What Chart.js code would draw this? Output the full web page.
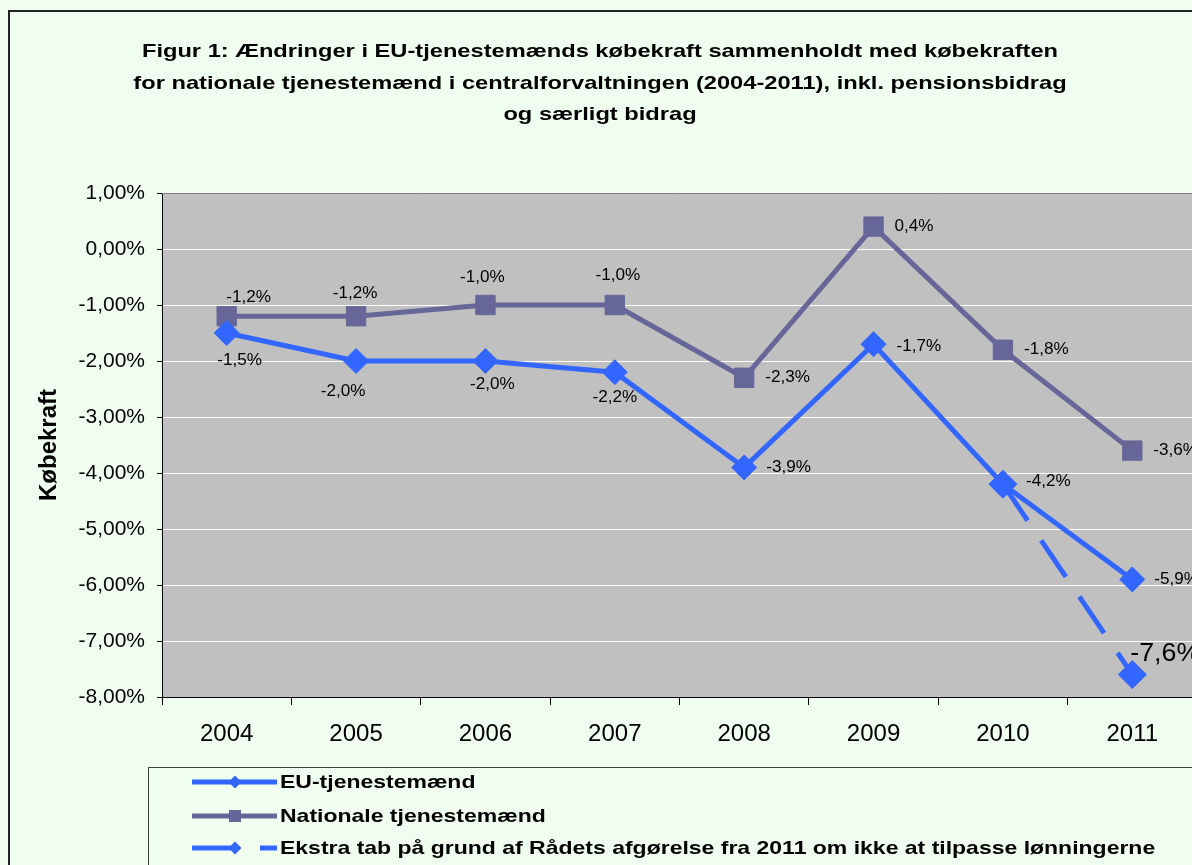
<!DOCTYPE html>
<html>
<head>
<meta charset="utf-8">
<script src="https://cdn.jsdelivr.net/npm/chart.js@4/dist/chart.umd.min.js"></script>
<style>
    html, body { margin: 0; padding: 0; overflow: hidden; background: #EFFEEF; }
    #wrap { width: 1192px; height: 865px; overflow: hidden; }
</style>
</head>
<body>
<div id="wrap"><canvas id="koebekraftCanvas" width="1212" height="865"></canvas></div>
<script>
// data
const years = ["2004", "2005", "2006", "2007", "2008", "2009", "2010", "2011"];
const euValues = [-1.5, -2.0, -2.0, -2.2, -3.9, -1.7, -4.2, -5.9];
const natValues = [-1.2, -1.2, -1.0, -1.0, -2.3, 0.4, -1.8, -3.6];
const extraValues = [null, null, null, null, null, null, -4.2, -7.6];
const yMin = -8, yMax = 1, yStep = 1;

const titleLines = [
    "Figur 1: Ændringer i EU-tjenestemænds købekraft sammenholdt med købekraften",
    "for nationale tjenestemænd i centralforvaltningen (2004-2011), inkl. pensionsbidrag",
    "og særligt bidrag"
];
const yTitle = "Købekraft";
const seriesNames = [
    "EU-tjenestemænd",
    "Nationale tjenestemænd",
    "Ekstra tab på grund af Rådets afgørelse fra 2011 om ikke at tilpasse lønningerne"
];

// label placement per point: [dx, dy, align]
const euLabelPos = [[13, 28, "center"], [-13, 31, "center"], [7, 24, "center"], [0, 25, "center"],
    [22, 0, "left"], [23, 2, "left"], [23, -3, "left"], [22, 0, "left"]];
const natLabelPos = [[22, -19, "center"], [-1, -23, "center"], [-3, -27, "center"], [3, -29, "center"],
    [21, 0, "left"], [21, 0, "left"], [21, 0, "left"], [21, 0, "left"]];
const extraLabelPos = [null, null, null, null, null, null, null, [-2, -20, "left"]];

const EU_BLUE = "#3366FF";
const NAT_PURPLE = "#666699";
const BG = "#EFFEEF";
const FONT = "'Liberation Sans', Arial, sans-serif";

Chart.defaults.font.family = FONT;

function fmtPct(v, digits) {
    return v.toFixed(digits).replace(".", ",") + "%";
}

// text in the original is a bit wider than plain Arial, so stretch it sideways
function wideText(ctx, text, x, y, sx) {
    ctx.save();
    ctx.translate(x, y);
    ctx.scale(sx, 1);
    ctx.fillText(text, 0, 0);
    ctx.restore();
}

const decorPlugin = {
    id: "decor",
    beforeDraw(chart) {
        const ctx = chart.ctx, a = chart.chartArea;
        ctx.save();
        ctx.fillStyle = BG;
        ctx.fillRect(0, 0, chart.width, chart.height);
        ctx.fillStyle = "#C0C0C0";
        ctx.fillRect(a.left, a.top, a.right - a.left, a.bottom - a.top);
        ctx.restore();
    },
    beforeDatasetsDraw(chart) {
        const ctx = chart.ctx, a = chart.chartArea;
        ctx.save();
        ctx.strokeStyle = "#808080";
        ctx.lineWidth = 1;
        ctx.beginPath();
        ctx.moveTo(a.left, a.top + 0.5);
        ctx.lineTo(a.right, a.top + 0.5);
        ctx.stroke();
        ctx.restore();
    },
    afterDraw(chart) {
        const ctx = chart.ctx, a = chart.chartArea;
        ctx.save();

        // outer frame
        ctx.strokeStyle = "#222";
        ctx.lineWidth = 2;
        ctx.strokeRect(9, 11, 2000, 2000);

        // title
        ctx.fillStyle = "#000";
        ctx.textAlign = "center";
        ctx.textBaseline = "middle";
        ctx.font = "bold 19px " + FONT;
        titleLines.forEach(function (line, i) {
            wideText(ctx, line, 600, 52 + i * 31.5, 1.245);
        });

        // y axis title
        ctx.save();
        ctx.translate(49, (a.top + a.bottom) / 2);
        ctx.rotate(-Math.PI / 2);
        ctx.font = "bold 24px " + FONT;
        ctx.fillText(yTitle, 0, 0);
        ctx.restore();

        // data labels
        const labelSets = [euLabelPos, natLabelPos, extraLabelPos];
        chart.data.datasets.forEach(function (ds, di) {
            const meta = chart.getDatasetMeta(di);
            meta.data.forEach(function (pt, i) {
                const pos = labelSets[di][i];
                if (!pos || ds.data[i] === null) return;
                ctx.font = (di === 2 ? "25px " : "16px ") + FONT;
                ctx.textAlign = pos[2];
                ctx.textBaseline = "middle";
                ctx.fillStyle = "#000";
                wideText(ctx, fmtPct(ds.data[i], 1), pt.x + pos[0], pt.y + pos[1], 1.07);
            });
        });

        // legend box
        ctx.strokeStyle = "#404040";
        ctx.lineWidth = 1;
        ctx.strokeRect(148.5, 767.5, 2000, 2000);
        const rows = [782, 816, 848];
        chart.data.datasets.forEach(function (ds, di) {
            const y = rows[di];
            ctx.strokeStyle = ds.borderColor;
            ctx.lineWidth = 5;
            ctx.setLineDash(ds.borderDash || []);
            ctx.beginPath();
            ctx.moveTo(192, y);
            ctx.lineTo(277, y);
            ctx.stroke();
            ctx.setLineDash([]);
            ctx.fillStyle = ds.borderColor;
            ctx.beginPath();
            if (ds.pointStyle === "rect") {
                ctx.rect(229, y - 6, 12, 12);
            } else {
                ctx.moveTo(235, y - 6.5);
                ctx.lineTo(241.5, y);
                ctx.lineTo(235, y + 6.5);
                ctx.lineTo(228.5, y);
                ctx.closePath();
            }
            ctx.fill();
            ctx.fillStyle = "#000";
            ctx.font = "bold 19px " + FONT;
            ctx.textAlign = "left";
            ctx.textBaseline = "middle";
            wideText(ctx, ds.label, 280, y + 1, 1.21);
        });

        ctx.restore();
    }
};

const ctx = document.getElementById("koebekraftCanvas");

var koebekraftChart = new Chart(ctx, {
    type: "line",
    data: {
        labels: years,
        datasets: [
            {
                label: seriesNames[0],
                data: euValues,
                borderColor: EU_BLUE,
                backgroundColor: EU_BLUE,
                borderWidth: 5,
                pointStyle: "rectRot",
                pointRadius: 12.5,
                pointBorderWidth: 1,
                order: 2
            },
            {
                label: seriesNames[1],
                data: natValues,
                borderColor: NAT_PURPLE,
                backgroundColor: NAT_PURPLE,
                borderWidth: 5,
                pointStyle: "rect",
                pointRadius: 13.7,
                pointBorderWidth: 1,
                order: 3
            },
            {
                label: seriesNames[2],
                data: extraValues,
                borderColor: EU_BLUE,
                backgroundColor: EU_BLUE,
                borderWidth: 5,
                borderDash: [44, 24],
                pointStyle: "rectRot",
                pointRadius: 14,
                pointBorderWidth: 1,
                order: 1
            }
        ]
    },
    options: {
        responsive: false,
        animation: false,
        devicePixelRatio: 1,
        layout: { padding: { top: 193, right: 14, bottom: 0, left: 0 } },
        plugins: {
            legend: { display: false },
            tooltip: { enabled: false },
            title: { display: false }
        },
        scales: {
            x: {
                offset: true,
                grid: {
                    offset: true,
                    drawOnChartArea: false,
                    drawTicks: true,
                    tickLength: 8,
                    tickColor: "#000"
                },
                border: { display: true, color: "#000", width: 1 },
                ticks: { color: "#000", font: { size: 24 }, padding: 15, maxRotation: 0 },
                afterFit: function (scale) { scale.height = 168; }
            },
            y: {
                min: yMin,
                max: yMax,
                grid: {
                    color: "#FFFFFF",
                    lineWidth: 1,
                    drawTicks: true,
                    tickLength: 5,
                    tickColor: "#000"
                },
                border: { display: true, color: "#000", width: 1 },
                ticks: {
                    stepSize: yStep,
                    color: "#000",
                    font: { size: 21 },
                    padding: 12,
                    callback: function (v) { return fmtPct(v, 2); }
                },
                afterFit: function (scale) { scale.width = 162; }
            }
        }
    },
    plugins: [decorPlugin]
});
</script>
</body>
</html>
